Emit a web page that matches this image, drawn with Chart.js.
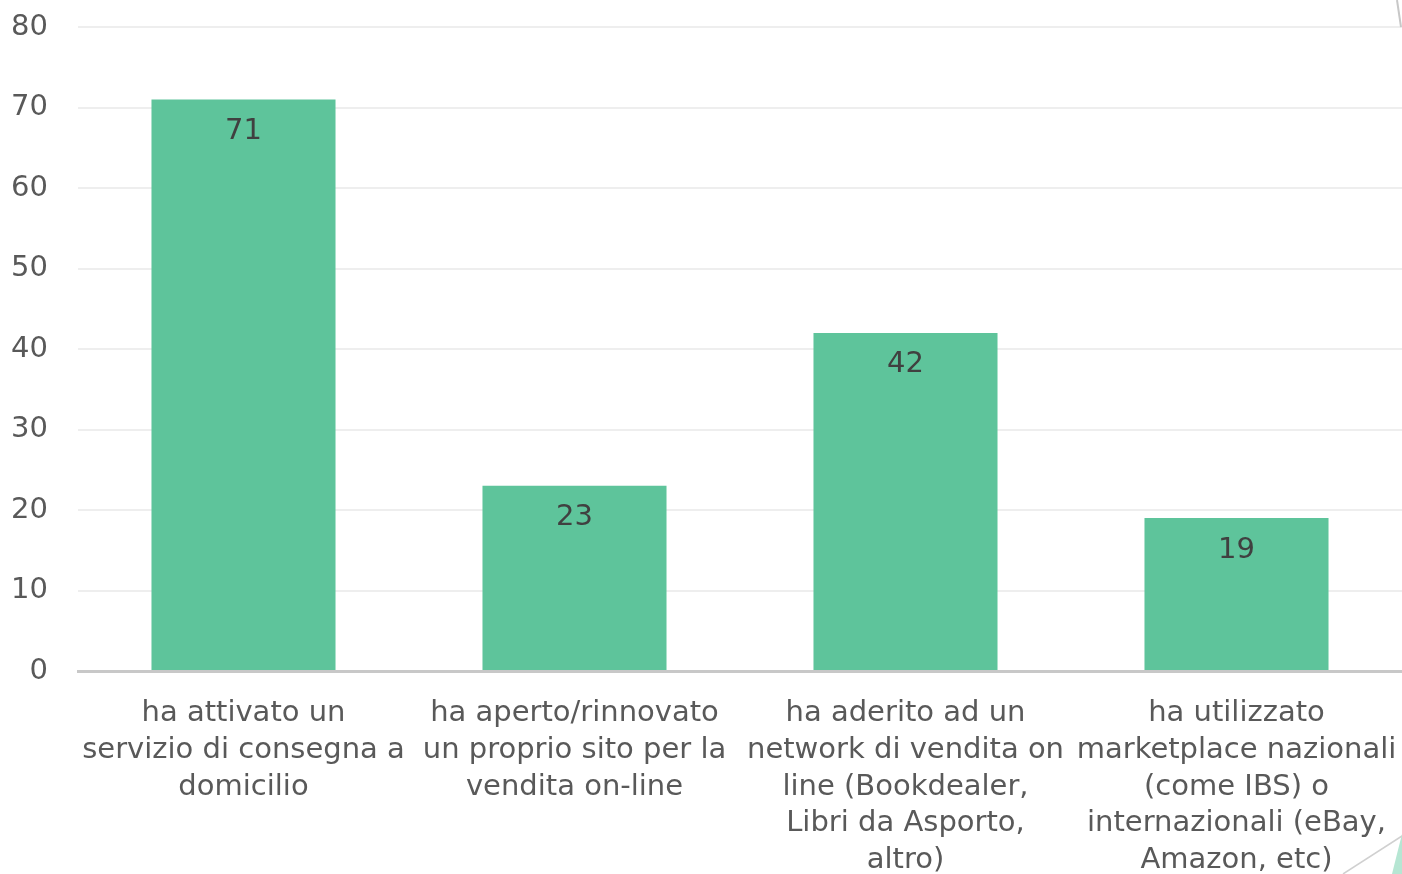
<!DOCTYPE html>
<html lang="it">
<head>
  <meta charset="UTF-8">
  <title>Servizi attivati</title>
  <script src="https://cdn.jsdelivr.net/npm/chart.js"></script>
  <style>
    body { margin: 0; background: #fff; }
    .wrap { width: 1402px; height: 874px; }
  </style>
</head>
<body>
  <div class="wrap"><canvas id="grafico" width="1402" height="874"></canvas></div>
  <script>
    const categorie = [
      ['ha attivato un', 'servizio di consegna a', 'domicilio'],
      ['ha aperto/rinnovato', 'un proprio sito per la', 'vendita on-line'],
      ['ha aderito ad un', 'network di vendita on', 'line (Bookdealer,', 'Libri da Asporto,', 'altro)'],
      ['ha utilizzato', 'marketplace nazionali', '(come IBS) o', 'internazionali (eBay,', 'Amazon, etc)']
    ];
    const valori = [71, 23, 42, 19];
    const tickY = [0, 10, 20, 30, 40, 50, 60, 70, 80];

    const FONT = '"DejaVu Sans", sans-serif';

    // etichette dei valori dentro le barre
    const etichette = {
      id: 'etichette',
      afterDatasetsDraw(chart) {
        const ctx = chart.ctx;
        const meta = chart.getDatasetMeta(0);
        ctx.save();
        ctx.font = '29px ' + FONT;
        ctx.fillStyle = '#404040';
        ctx.textAlign = 'center';
        ctx.textBaseline = 'middle';
        meta.data.forEach((bar, i) => {
          ctx.fillText(String(valori[i]), bar.x, bar.y + 32);
        });
        ctx.restore();
      }
    };

    // decorazioni della slide agli angoli
    const angoli = {
      id: 'angoli',
      afterDraw(chart) {
        const ctx = chart.ctx;
        const w = chart.width, h = chart.height;
        ctx.save();
        ctx.strokeStyle = '#c8c8c8';
        ctx.lineWidth = 2;
        ctx.beginPath();
        ctx.moveTo(w - 5, 0);
        ctx.lineTo(w - 1, 27);
        ctx.stroke();
        ctx.lineWidth = 1.5;
        ctx.strokeStyle = '#d0d0d0';
        ctx.beginPath();
        ctx.moveTo(w - 59, h);
        ctx.lineTo(w, h - 38);
        ctx.stroke();
        ctx.fillStyle = '#b6e6d3';
        ctx.beginPath();
        ctx.moveTo(w - 10, h);
        ctx.lineTo(w, h - 40);
        ctx.lineTo(w, h);
        ctx.closePath();
        ctx.fill();
        ctx.restore();
      }
    };

    new Chart(document.getElementById('grafico'), {
      type: 'bar',
      data: {
        labels: categorie,
        datasets: [{
          data: valori,
          backgroundColor: '#5ec49b',
          categoryPercentage: 1,
          barPercentage: 0.556
        }]
      },
      options: {
        responsive: false,
        animation: false,
        layout: { padding: { top: 27, right: 0, left: 0, bottom: 0 } },
        plugins: { legend: { display: false }, tooltip: { enabled: false } },
        scales: {
          y: {
            min: 0, max: 80,
            afterFit(axis) { axis.width = 78; axis.paddingTop = 0; axis.paddingBottom = 0; },
            afterBuildTicks(axis) { axis.ticks = tickY.map(v => ({ value: v })); },
            grid: { color: '#eeeeee', lineWidth: 2, drawTicks: false },
            border: { display: false },
            ticks: { padding: 30, color: '#595959', font: { family: FONT, size: 29 } }
          },
          x: {
            afterFit(axis) { axis.height = 203; axis.paddingLeft = 0; axis.paddingRight = 0; },
            grid: { display: false, drawTicks: false },
            border: { display: true, color: '#c8c8c8', width: 3 },
            ticks: {
              padding: 24, color: '#595959', maxRotation: 0, autoSkip: false,
              font: { family: FONT, size: 29, lineHeight: 1.27 }
            }
          }
        }
      },
      plugins: [etichette, angoli]
    });
  </script>
</body>
</html>
